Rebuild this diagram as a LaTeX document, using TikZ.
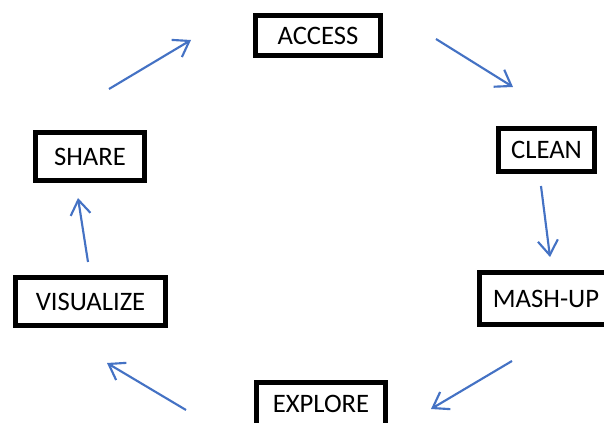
\documentclass[tikz,border=0pt]{standalone}
\usepackage{fontspec}
\setmainfont{Carlito}
\usetikzlibrary{arrows.meta}
\definecolor{flowblue}{RGB}{68,114,196}
\tikzset{
  stage/.style={draw=black, line width=3.75pt, fill=white, inner sep=0pt,
    font=\fontsize{20}{24}\selectfont, text=black},
  flow/.style={flowblue, line width=1.6pt, -{Straight Barb[length=11pt,width=15pt]}}
}

\begin{document}
\begin{tikzpicture}[x=0.75pt,y=-0.75pt]
\useasboundingbox (0,0) rectangle (604,423);
\clip (0,0) rectangle (604,423);

% the six stages
\node[stage, minimum width=93.75pt, minimum height=30pt] (access) at (318,35.5) {ACCESS};
\node[stage, minimum width=72pt, minimum height=32.25pt] (clean) at (546.5,150) {CLEAN};
\node[stage, minimum width=99.75pt, minimum height=39pt] (mashup) at (546,298.5) {MASH-UP};
\node[stage, minimum width=96.75pt, minimum height=32.25pt] (explore) at (321,404) {EXPLORE};
\node[stage, minimum width=112.5pt, minimum height=36pt] (visualize) at (90.5,301.5) {VISUALIZE};
\node[stage, minimum width=81.75pt, minimum height=36pt] (share) at (90,156.5) {SHARE};

% arrow ends
\coordinate (a1s) at (436,39);  \coordinate (a1e) at (513,87);
\coordinate (a2s) at (541,186); \coordinate (a2e) at (550,257);
\coordinate (a3s) at (512,361); \coordinate (a3e) at (431,409);
\coordinate (a4s) at (186,410); \coordinate (a4e) at (107,363);
\coordinate (a5s) at (88,262);  \coordinate (a5e) at (78,198);
\coordinate (a6s) at (109,89);  \coordinate (a6e) at (191,40);

% the cycle
\draw[flow] (a1s) -- (a1e);
\draw[flow] (a2s) -- (a2e);
\draw[flow] (a3s) -- (a3e);
\draw[flow] (a4s) -- (a4e);
\draw[flow] (a5s) -- (a5e);
\draw[flow] (a6s) -- (a6e);

\end{tikzpicture}
\end{document}
